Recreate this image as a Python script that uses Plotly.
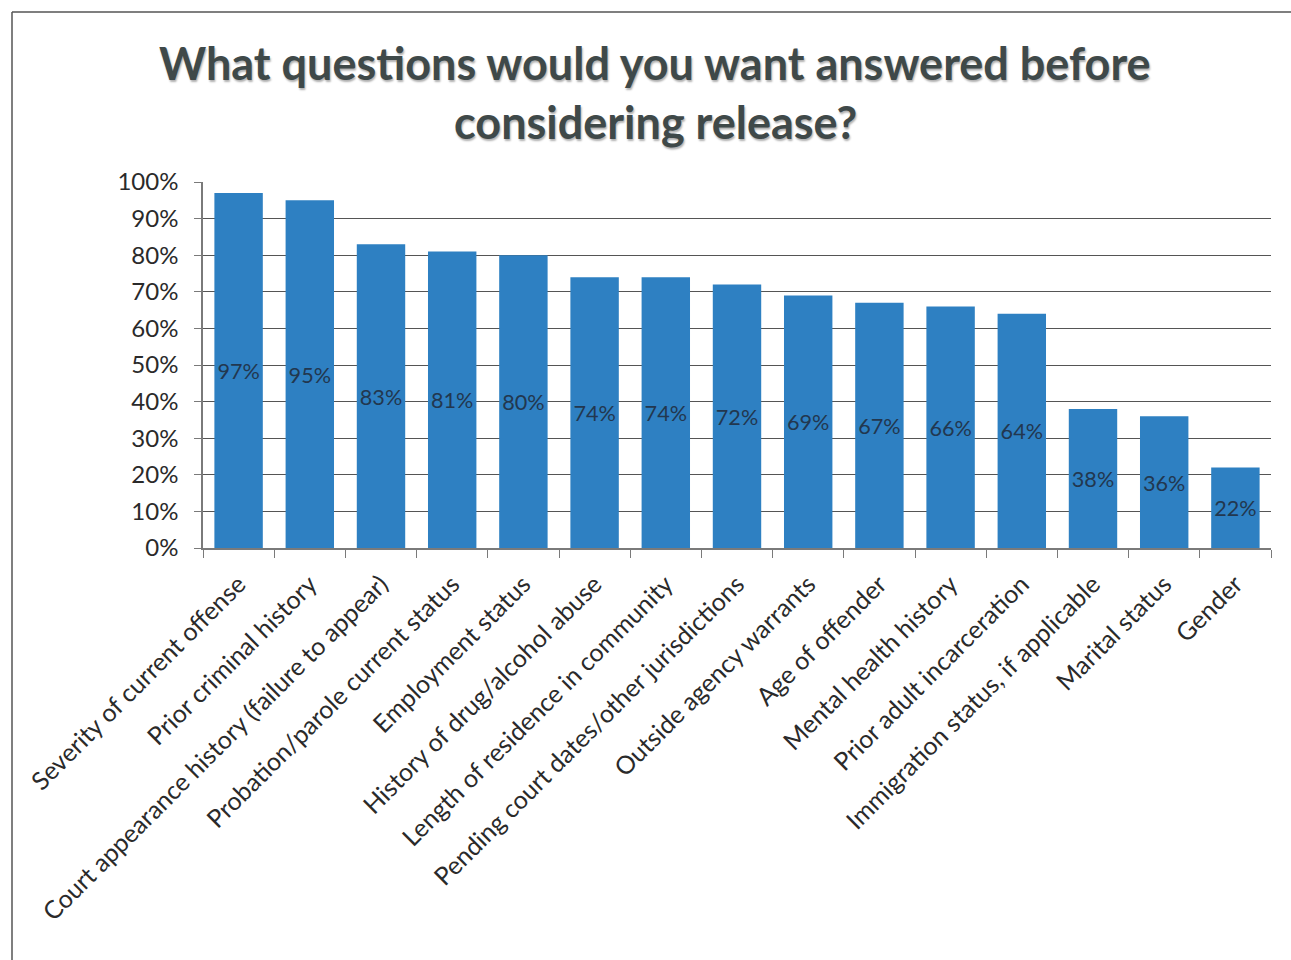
import plotly.graph_objects as go

categories = [
    "Severity of current offense",
    "Prior criminal history",
    "Court appearance history (failure to appear)",
    "Probation/parole current status",
    "Employment status",
    "History of drug/alcohol abuse",
    "Length of residence in community",
    "Pending court dates/other jurisdictions",
    "Outside agency warrants",
    "Age of offender",
    "Mental health history",
    "Prior adult incarceration",
    "Immigration status, if applicable",
    "Marital status",
    "Gender",
]
values = [0.97, 0.95, 0.83, 0.81, 0.80, 0.74, 0.74, 0.72, 0.69, 0.67, 0.66, 0.64, 0.38, 0.36, 0.22]
y_ticks = [i / 10 for i in range(11)]
y_tick_labels = [f"{i * 10}%" for i in range(11)]
title_lines = ["What questions would you want answered before", "considering release?"]

W, H = 1291, 960
L, R, T, B = 203, 20, 182, 412
pw, ph = W - L - R, H - T - B


def px_x(px):
    return (px - L) / pw


def px_y(py):
    return (H - B - py) / ph


fig = go.Figure()
fig.add_trace(go.Bar(
    x=categories,
    y=values,
    marker=dict(color="#2E80C2", line=dict(width=0)),
    text=[f"{round(v * 100)}%" for v in values],
    textposition="inside",
    insidetextanchor="middle",
    textangle=0,
    textfont=dict(family="Lato, sans-serif", size=23, color="#22374f"),
    cliponaxis=False,
))

fig.update_layout(
    width=W, height=H,
    margin=dict(l=L, r=R, t=T, b=B),
    paper_bgcolor="white",
    plot_bgcolor="white",
    bargap=0.32,
    showlegend=False,
    font=dict(family="Lato, sans-serif", color="#2a2a2a"),
)

fig.update_yaxes(
    range=[0, 1.0],
    tickvals=y_ticks,
    ticktext=y_tick_labels,
    tickfont=dict(size=24, color="#2a2a2a"),
    ticklabelstandoff=11,
    showgrid=True,
    gridcolor="#555555",
    gridwidth=1.2,
    showline=True,
    linecolor="#7a7a7a",
    linewidth=1.5,
    ticks="outside",
    ticklen=7,
    tickcolor="#7a7a7a",
    zeroline=False,
)
fig.update_xaxes(
    tickangle=-45,
    tickfont=dict(size=25, color="#2a2a2a"),
    ticklabelstandoff=10,
    showline=True,
    linecolor="#7a7a7a",
    linewidth=1.5,
    ticks="outside",
    tickson="boundaries",
    ticklen=8,
    tickcolor="#7a7a7a",
)

for i, line in enumerate(title_lines):
    fig.add_annotation(
        text=f"<b>{line}</b>",
        x=px_x(655), y=px_y(63 + i * 59),
        xref="paper", yref="paper",
        xanchor="center", yanchor="middle",
        showarrow=False,
        font=dict(family="Lato, sans-serif", size=45, color="#3f4949",
                  shadow="1px 2px 2px #b0b0b0"),
    )

# outer frame
fig.add_shape(type="line", xref="paper", yref="paper",
              x0=px_x(12), x1=px_x(12), y0=px_y(12), y1=px_y(960),
              line=dict(color="#555555", width=1.5))
fig.add_shape(type="line", xref="paper", yref="paper",
              x0=px_x(12), x1=px_x(1291), y0=px_y(12), y1=px_y(12),
              line=dict(color="#555555", width=1.5))

fig.write_html("out.html")
